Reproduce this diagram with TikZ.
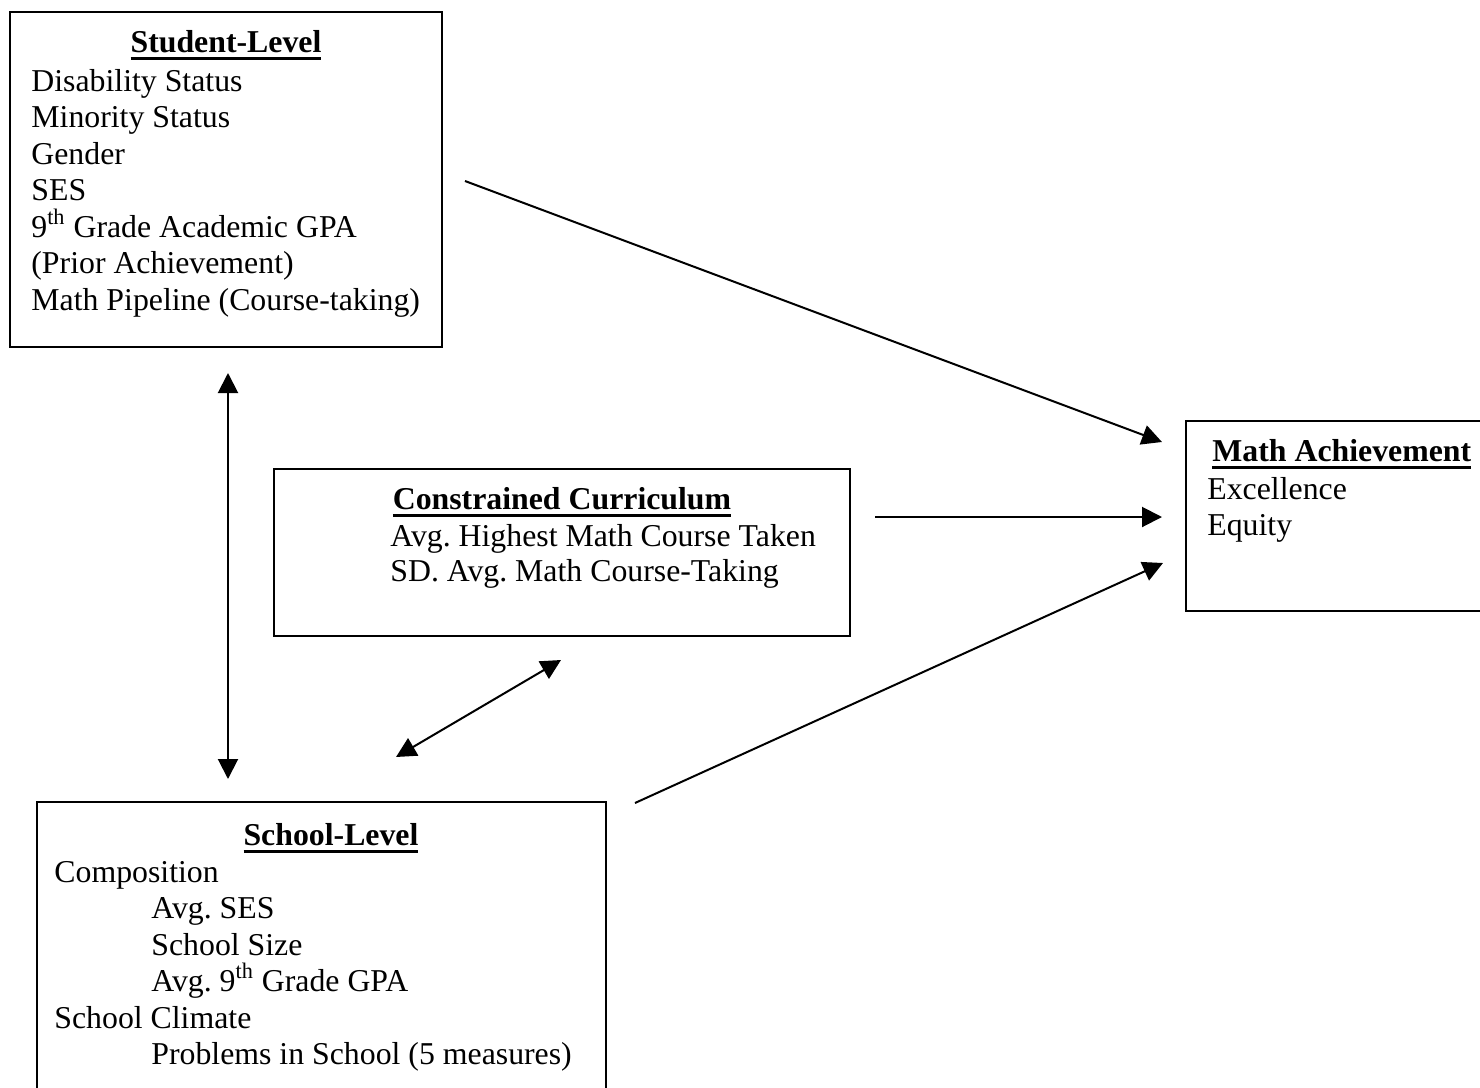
\documentclass[tikz,border=0pt]{standalone}
\usepackage{fontspec}
\setmainfont{Liberation Serif}
\usetikzlibrary{arrows.meta}
\frenchspacing
\newcommand\uhead[1]{\setbox0\hbox{\bfseries #1}\rlap{\rule[-4pt]{\wd0}{1.5pt}}\box0}
\tikzset{
	box/.style={draw, line width=1pt, inner sep=0pt},
	txt/.style={inner sep=0pt, font=\fontsize{15.9pt}{18.25pt}\selectfont},
	link/.style={line width=1pt, -{Triangle[length=10pt,width=10pt]}},
	twoway/.style={line width=1pt, {Triangle[length=10pt,width=10pt]}-{Triangle[length=10pt,width=10pt]}}
}

\begin{document}
\begin{tikzpicture}[x=0.5pt, y=-0.5pt]
		\useasboundingbox (0,0) rectangle (1480,1088);
		\clip (0,0) rectangle (1480,1088);
		% boxes
		\node[box, minimum width=216pt, minimum height=167.5pt] (student) at (226,179.5) {};
		\node[box, minimum width=288pt, minimum height=83.5pt] (curriculum) at (562,552.5) {};
		\node[box, minimum width=157pt, minimum height=95pt] (math) at (1343,516) {};
		\node[box, minimum width=284.5pt, minimum height=154pt] (school) at (321.5,956) {};
		% student level
		\node[txt, anchor=base] (student title) at (226,52) {\uhead{Student-Level}};
		\foreach \t [count=\i from 0] in {Disability Status, Minority Status, Gender, SES,
				{9\textsuperscript{th} Grade Academic GPA}, {(Prior Achievement)}, {Math Pipeline (Course-taking)}}{
				\node[txt, anchor=base west] (student-\i) at (31, {91+36.5*\i}) {\t};
			};
		% constrained curriculum
		\node[txt, anchor=base] (curriculum title) at (562,509) {\uhead{Constrained Curriculum}};
		\node[txt, anchor=base west] (curriculum-0) at (390,546) {Avg. Highest Math Course Taken};
		\node[txt, anchor=base west] (curriculum-1) at (390,581) {SD. Avg. Math Course-Taking};
		% math achievement
		\node[txt, anchor=base west] (math title) at (1212,461) {\uhead{Math Achievement}};
		\node[txt, anchor=base west] (math-0) at (1207,499) {Excellence};
		\node[txt, anchor=base west] (math-1) at (1207,535) {Equity};
		% school level
		\node[txt, anchor=base] (school title) at (331,845) {\uhead{School-Level}};
		\foreach \x/\t [count=\i from 0] in {54/Composition, 151/Avg. SES, 151/School Size,
				151/{Avg. 9\textsuperscript{th} Grade GPA}, 54/School Climate, 151/{Problems in School (5 measures)}}{
				\node[txt, anchor=base west] (school-\i) at (\x, {882+36.5*\i}) {\t};
			};
		% arrow ends
		\coordinate (student out) at (465,181);
		\coordinate (math in1) at (1162,442);
		\coordinate (curriculum out) at (875,517);
		\coordinate (math in2) at (1162,517);
		\coordinate (school out) at (635,803);
		\coordinate (math in3) at (1163,563);
		\coordinate (student down) at (228,373);
		\coordinate (school up) at (228,779);
		\coordinate (school in) at (396,757);
		\coordinate (curriculum in) at (561,660);
		\draw[link] (student out) -- (math in1);
		\draw[link] (curriculum out) -- (math in2);
		\draw[link] (school out) -- (math in3);
		\draw[twoway] (student down) -- (school up);
		\draw[twoway] (school in) -- (curriculum in);
	\end{tikzpicture}
\end{document}
